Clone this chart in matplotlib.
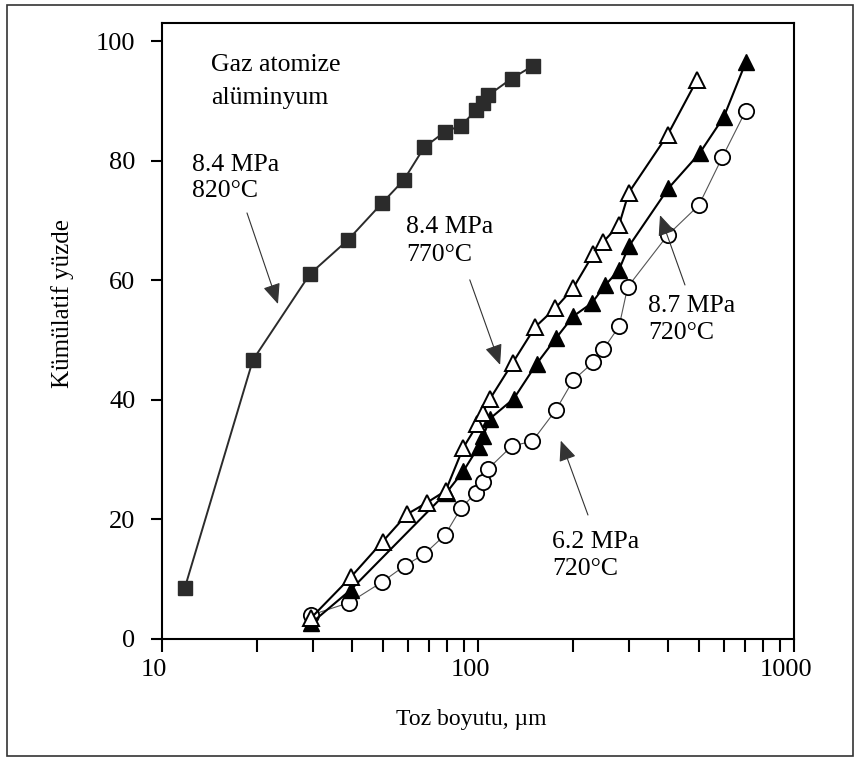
import matplotlib
matplotlib.use("Agg")
import matplotlib.pyplot as plt
import matplotlib.transforms as mtransforms
from matplotlib.patches import Rectangle

plt.rcParams['font.family'] = ['Liberation Serif', 'DejaVu Serif']

# 8.4 MPa, 820 C (filled squares)
sq_x = [11.8, 19.4, 29.4, 38.8, 49.6, 58.2, 67.6, 78.6, 88.2, 98.8, 103.9, 107.8, 127.8, 148.9]
sq_y = [8.5, 46.7, 61.1, 66.8, 72.9, 76.8, 82.3, 84.9, 85.9, 88.5, 89.7, 91.0, 93.8, 95.9]

# 8.4 MPa, 770 C (open triangles)
ot_x = [29.6, 39.5, 49.9, 59.7, 68.8, 79.0, 89.8, 99.6, 103.4, 109.2, 128.7, 151.6,
        175.9, 200, 231.6, 249.4, 279.5, 300, 398.5, 493.6]
ot_y = [3.5, 10.3, 16.3, 20.9, 22.8, 24.8, 32.0, 35.9, 37.9, 40.2, 46.2, 52.2,
        55.4, 58.7, 64.4, 66.5, 69.3, 74.7, 84.4, 93.6]

# 8.7 MPa, 720 C (filled triangles)
ft_x = [29.6, 39.5, 79.5, 89.9, 100.5, 103.9, 109.2, 129.7, 153.5, 176.3, 200,
        229, 252.7, 279.5, 300, 400, 502.7, 600, 703.5]
ft_y = [2.6, 8.2, 24.5, 28.1, 32.2, 34.0, 36.9, 40.2, 46.1, 50.3, 54.0,
        56.2, 59.2, 61.8, 65.7, 75.4, 81.3, 87.4, 96.5]

# 6.2 MPa, 720 C (open circles)
oc_x = [29.6, 39.2, 49.6, 58.8, 67.6, 78.6, 88.6, 98.8, 103.4, 107.8, 128.0, 148.6,
        176.3, 200, 231.6, 249.4, 279.5, 297.6, 398.5, 500, 592.8, 703.5]
oc_y = [4.0, 6.1, 9.5, 12.3, 14.2, 17.4, 22.0, 24.5, 26.3, 28.5, 32.3, 33.1,
        38.3, 43.3, 46.3, 48.5, 52.3, 58.9, 67.6, 72.6, 80.6, 88.4]

y_ticks = [0, 20, 40, 60, 80, 100]

fig = plt.figure(figsize=(8.58, 7.58), dpi=100)
ax = fig.add_axes([0.1888, 0.157, 0.7366, 0.8127])

ax.plot(oc_x, oc_y, color='#555555', lw=0.8, marker='o', ms=11,
        mfc='white', mec='black', mew=1.3, zorder=3)
ax.plot(ft_x, ft_y, color='black', lw=1.5, marker='^', ms=11.5,
        mfc='black', mec='black', zorder=4)
ax.plot(ot_x, ot_y, color='black', lw=1.5, marker='^', ms=11.5,
        mfc='white', mec='black', mew=1.4, zorder=5)
ax.plot(sq_x, sq_y, color='#2b2b2b', lw=1.4, marker='s', ms=10.5,
        mfc='#2b2b2b', mec='#2b2b2b', zorder=5)

ax.set_xscale('log')
ax.set_xlim(10, 1000)
ax.set_ylim(0, 103.1)
ax.set_yticks(y_ticks)
ax.set_xticks([10, 100, 1000])
ax.set_xticklabels(['10', '100', '1000'])
ax.xaxis.set_minor_locator(matplotlib.ticker.LogLocator(base=10, subs=range(2, 10)))
ax.xaxis.set_minor_formatter(matplotlib.ticker.NullFormatter())

for s in ax.spines.values():
    s.set_linewidth(1.5)
ax.tick_params(axis='x', which='both', direction='out', length=9.5, width=1.5,
               labelsize=19, pad=5)
ax.tick_params(axis='y', direction='out', length=8, width=1.5, labelsize=19, pad=11)

offset = mtransforms.ScaledTranslation(-0.08, 0, fig.dpi_scale_trans)
for lab in ax.xaxis.get_majorticklabels():
    lab.set_transform(lab.get_transform() + offset)

fig.text(471 / 858, 1 - 719 / 758, 'Toz boyutu, µm', ha='center', va='center', fontsize=17)
fig.text(63 / 858, 1 - 304 / 758, 'Kümülatif yüzde', ha='center', va='center',
         rotation=90, fontsize=18)

txt = dict(transform=ax.transAxes, ha='left', va='center', fontsize=18.5)
ax.text(0.0775, 0.932, 'Gaz atomize', **txt)
ax.text(0.0775, 0.878, 'alüminyum', **txt)
ax.text(0.0475, 0.7695, '8.4 MPa', **txt)
ax.text(0.0475, 0.727, '820°C', **txt)
ax.text(0.386, 0.669, '8.4 MPa', **txt)
ax.text(0.386, 0.623, '770°C', **txt)
ax.text(0.769, 0.5406, '8.7 MPa', **txt)
ax.text(0.769, 0.497, '720°C', **txt)
ax.text(0.617, 0.1575, '6.2 MPa', **txt)
ax.text(0.617, 0.1136, '720°C', **txt)

arrow = dict(arrowstyle='-|>,head_length=0.7,head_width=0.3', color='#333333',
             lw=0.8, shrinkA=0, shrinkB=0, mutation_scale=18)
ax.annotate('', xy=(0.1835, 0.5438), xytext=(0.1345, 0.6916),
            xycoords='axes fraction', arrowprops=arrow)
ax.annotate('', xy=(0.535, 0.445), xytext=(0.487, 0.583),
            xycoords='axes fraction', arrowprops=arrow)
ax.annotate('', xy=(0.788, 0.688), xytext=(0.8275, 0.5747),
            xycoords='axes fraction', arrowprops=arrow)
ax.annotate('', xy=(0.631, 0.322), xytext=(0.674, 0.2013),
            xycoords='axes fraction', arrowprops=arrow)

fig.patches.append(Rectangle((0.0082, 0.0026), 0.9865, 0.9908, transform=fig.transFigure,
                             fill=False, edgecolor='#333333', lw=1.2))

fig.savefig('out.png', dpi=100)
